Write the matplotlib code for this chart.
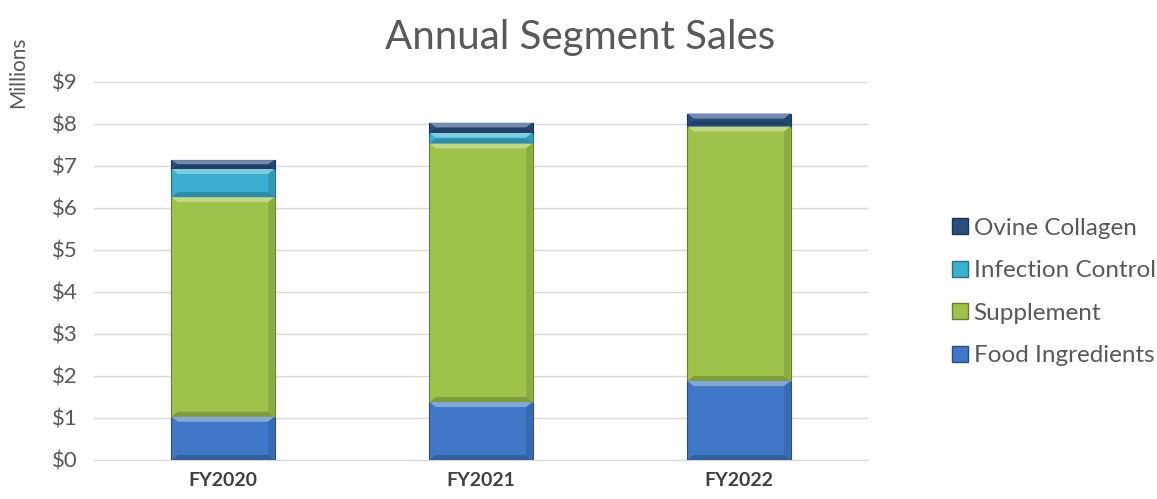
import matplotlib
matplotlib.use("Agg")
import matplotlib.pyplot as plt
from matplotlib.patches import Polygon
from matplotlib.lines import Line2D
import matplotlib.colors as mcolors
import numpy as np

plt.rcParams['font.family'] = ['Lato', 'DejaVu Sans']

years = ['FY2020', 'FY2021', 'FY2022']
food_ingredients = [1.03, 1.38, 1.88]
supplement = [5.23, 6.16, 6.06]
infection_control = [0.67, 0.25, 0.02]
ovine_collagen = [0.21, 0.24, 0.29]

series = [
    ('Food Ingredients', food_ingredients, '#3F78C6'),
    ('Supplement', supplement, '#9FC34A'),
    ('Infection Control', infection_control, '#3AAFCF'),
    ('Ovine Collagen', ovine_collagen, '#294D7E'),
]

fig = plt.figure(figsize=(11.57, 4.99), dpi=100)
ax = fig.add_axes([94 / 1157, 1 - 460 / 499, 774 / 1157, 378 / 499])

x = np.arange(len(years))
bottom = np.zeros(len(years))
handles = []


def shade(color, f):
    r, g, b = mcolors.to_rgb(color)
    if f > 0:
        return (r + (1 - r) * f, g + (1 - g) * f, b + (1 - b) * f)
    return (r * (1 + f), g * (1 + f), b * (1 + f))


for name, vals, color in series:
    bars = ax.bar(x, vals, width=0.4, bottom=bottom, color=color,
                  edgecolor=shade(color, -0.35), linewidth=0.8, zorder=3)
    # bevel: lighter top edge, darker bottom, derived from each bar
    for p in bars.patches:
        x0, y0 = p.get_x(), p.get_y()
        w, h = p.get_width(), p.get_height()
        d = min(0.12, h / 2.2)
        dx = 0.025
        top = [(x0, y0 + h), (x0 + w, y0 + h), (x0 + w - dx, y0 + h - d), (x0 + dx, y0 + h - d)]
        ax.add_patch(Polygon(top, closed=True, color=shade(color, 0.35), lw=0, zorder=4))
        bot = [(x0, y0), (x0 + w, y0), (x0 + w - dx, y0 + d), (x0 + dx, y0 + d)]
        ax.add_patch(Polygon(bot, closed=True, color=shade(color, -0.2), lw=0, zorder=4))
        right = [(x0 + w, y0), (x0 + w, y0 + h), (x0 + w - dx, y0 + h - d), (x0 + w - dx, y0 + d)]
        ax.add_patch(Polygon(right, closed=True, color=shade(color, -0.12), lw=0, zorder=4))
    bottom = bottom + np.array(vals)
    handles.append(Line2D([], [], marker='s', linestyle='none', markersize=12,
                          markerfacecolor=color, markeredgecolor=shade(color, -0.35),
                          label=name))

ax.set_xlim(-0.5, 2.5)
ax.set_ylim(0, 9)
ax.set_yticks(range(0, 10))
ax.set_yticklabels([f'${i}' for i in range(0, 10)])
ax.set_xticks(x)
ax.set_xticklabels(years, fontweight='bold')
ax.grid(axis='y', color='#D9D9D9', linewidth=1, zorder=0)
for s in ['top', 'right', 'left']:
    ax.spines[s].set_visible(False)
ax.spines['bottom'].set_color('#D9D9D9')
ax.tick_params(axis='both', length=0, colors='#595959')
ax.tick_params(axis='y', labelsize=16, pad=30)
ax.tick_params(axis='x', labelsize=14, pad=9)
for lbl in ax.get_yticklabels():
    lbl.set_horizontalalignment('left')
for lbl in ax.get_xticklabels():
    lbl.set_color('#404040')

fig.text(580 / 1157, 1 - 37 / 499, 'Annual Segment Sales', ha='center', va='center',
         fontsize=29, color='#595959')
fig.text(18 / 1157, 1 - 72 / 499, 'Millions', rotation=90, ha='center', va='center',
         fontsize=15, color='#595959')

leg = fig.legend(handles=handles[::-1], loc='center left',
                 bbox_to_anchor=(948 / 1157, 1 - 292 / 499), frameon=False,
                 fontsize=17.5, labelspacing=0.88, handletextpad=0.05, handlelength=1.0,
                 labelcolor='#595959', borderaxespad=0, borderpad=0)

fig.savefig('out.png', dpi=100)
